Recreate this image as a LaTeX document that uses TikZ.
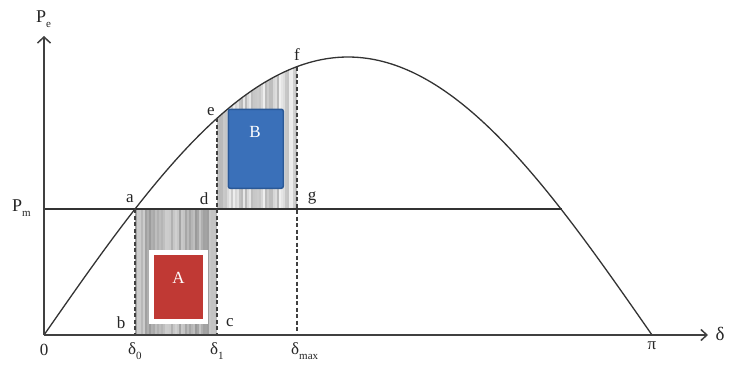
\documentclass[tikz,border=0pt]{standalone}
\usepackage{fontspec}
\setmainfont{Liberation Serif}
\usetikzlibrary{arrows.meta}
\newcommand\lsub[1]{\raisebox{-0.3em}{\fontsize{11}{11}\selectfont #1}}
\definecolor{redA}{RGB}{192,57,52}
\definecolor{blueB}{RGB}{58,112,185}
\definecolor{blueBd}{RGB}{42,88,150}
\begin{document}
\begin{tikzpicture}[x=1pt,y=-1pt,
  lbl/.style={font=\fontsize{17}{17}\selectfont, inner sep=0pt, text=black!85},
  axis/.style={line width=1.4pt, draw=black!75},
  dashln/.style={line width=2pt, dash pattern=on 4pt off 2.5pt, draw=black!75},
  curveln/.style={line width=1.3pt, draw=black!80},
  boxlbl/.style={font=\fontsize{17}{17}\selectfont, text=white, inner sep=0pt}]
\useasboundingbox (0,0) rectangle (730,369);
\fill[white] (0,0) rectangle (730,369);
\pgfmathsetseed{7}
% key coordinates
\coordinate (O) at (44,335);
\coordinate (ytop) at (44,36);
\coordinate (xend) at (708,335);
\coordinate (a) at (135,209);
\coordinate (b) at (135,335);
\coordinate (c) at (217,335);
\coordinate (d) at (217,209);
\coordinate (e) at (217,118);
\coordinate (f) at (297,67);
\coordinate (g) at (297,209);
\coordinate (gb) at (297,335);
\coordinate (pmstart) at (44,209);
\coordinate (pmend) at (562,209);
% region A shading
\fill[gray!55] (a) rectangle (c);
\foreach \k in {0,...,40} {
  \pgfmathtruncatemacro\g{35+45*rnd}
  \draw[line width=1.3pt, gray!\g] ({136+\k*2},209) -- ++(0,126);
}
% region B shading
\begin{scope}
  \clip (d) -- plot[domain=51.2:74.9, samples=40] ({44+\x*3.377778},{335-278*sin(\x)}) -- (g) -- cycle;
  \fill[gray!25] (217,60) rectangle (297,209);
  \foreach \k in {0,...,40} {
    \pgfmathtruncatemacro\g{12+45*rnd}
    \draw[line width=1.3pt, gray!\g] ({218+\k*2},60) -- ++(0,149);
  }
\end{scope}
% curve
\draw[curveln] plot[domain=0:180, samples=150, smooth] ({44+\x*3.377778},{335-278*sin(\x)});
% Pm line
\draw[curveln] (pmstart) -- (pmend);
% dashed lines
\draw[dashln] (a) -- (b);
\draw[dashln] (e) -- (c);
\draw[dashln] (f) -- (gb);
% axes
\draw[axis, -{Straight Barb[length=6pt,width=13pt,line width=1.5pt]}] (O) -- (ytop);
\draw[axis, -{Straight Barb[length=6pt,width=11pt,line width=1.5pt]}] (O) -- (xend);
% boxes
\fill[white] (149,250) rectangle (208,324);
\node[boxlbl, fill=redA, minimum width=49pt, minimum height=64pt, anchor=north west, inner sep=0pt] (boxA) at (154,255) {};
\node[boxlbl] (labA) at (178.5,278) {A};
\node[fill=blueB, draw=blueBd, line width=1.5pt, rounded corners=2pt, minimum width=55pt, minimum height=79pt, anchor=north west, inner sep=0pt] (boxB) at (227.5,108.5) {};
\node[boxlbl] (labB) at (255,132) {B};
% labels
\node[lbl] (la) at (130,199) {a};
\node[lbl] (lb) at (121,323) {b};
\node[lbl] (lc) at (230,323) {c};
\node[lbl] (ld) at (204,199) {d};
\node[lbl] (le) at (211,112) {e};
\node[lbl] (lf) at (297,55) {f};
\node[lbl] (lg) at (312,198) {g};
\node[lbl] (lO) at (44,350) {0};
\node[lbl, anchor=west] (ld0) at (128,351) {δ\lsub{0}};
\node[lbl, anchor=west] (ld1) at (210,351) {δ\lsub{1}};
\node[lbl, anchor=west] (ldm) at (291,351) {δ\lsub{max}};
\node[lbl] (lpi) at (652,346) {π};
\node[lbl, font=\fontsize{19}{19}\selectfont] (ldelta) at (720,334) {δ};
\node[lbl, anchor=west, font=\fontsize{18}{18}\selectfont] (lPe) at (36,19) {P\lsub{e}};
\node[lbl, anchor=west, font=\fontsize{18}{18}\selectfont] (lPm) at (12,208) {P\lsub{m}};
\end{tikzpicture}
\end{document}
